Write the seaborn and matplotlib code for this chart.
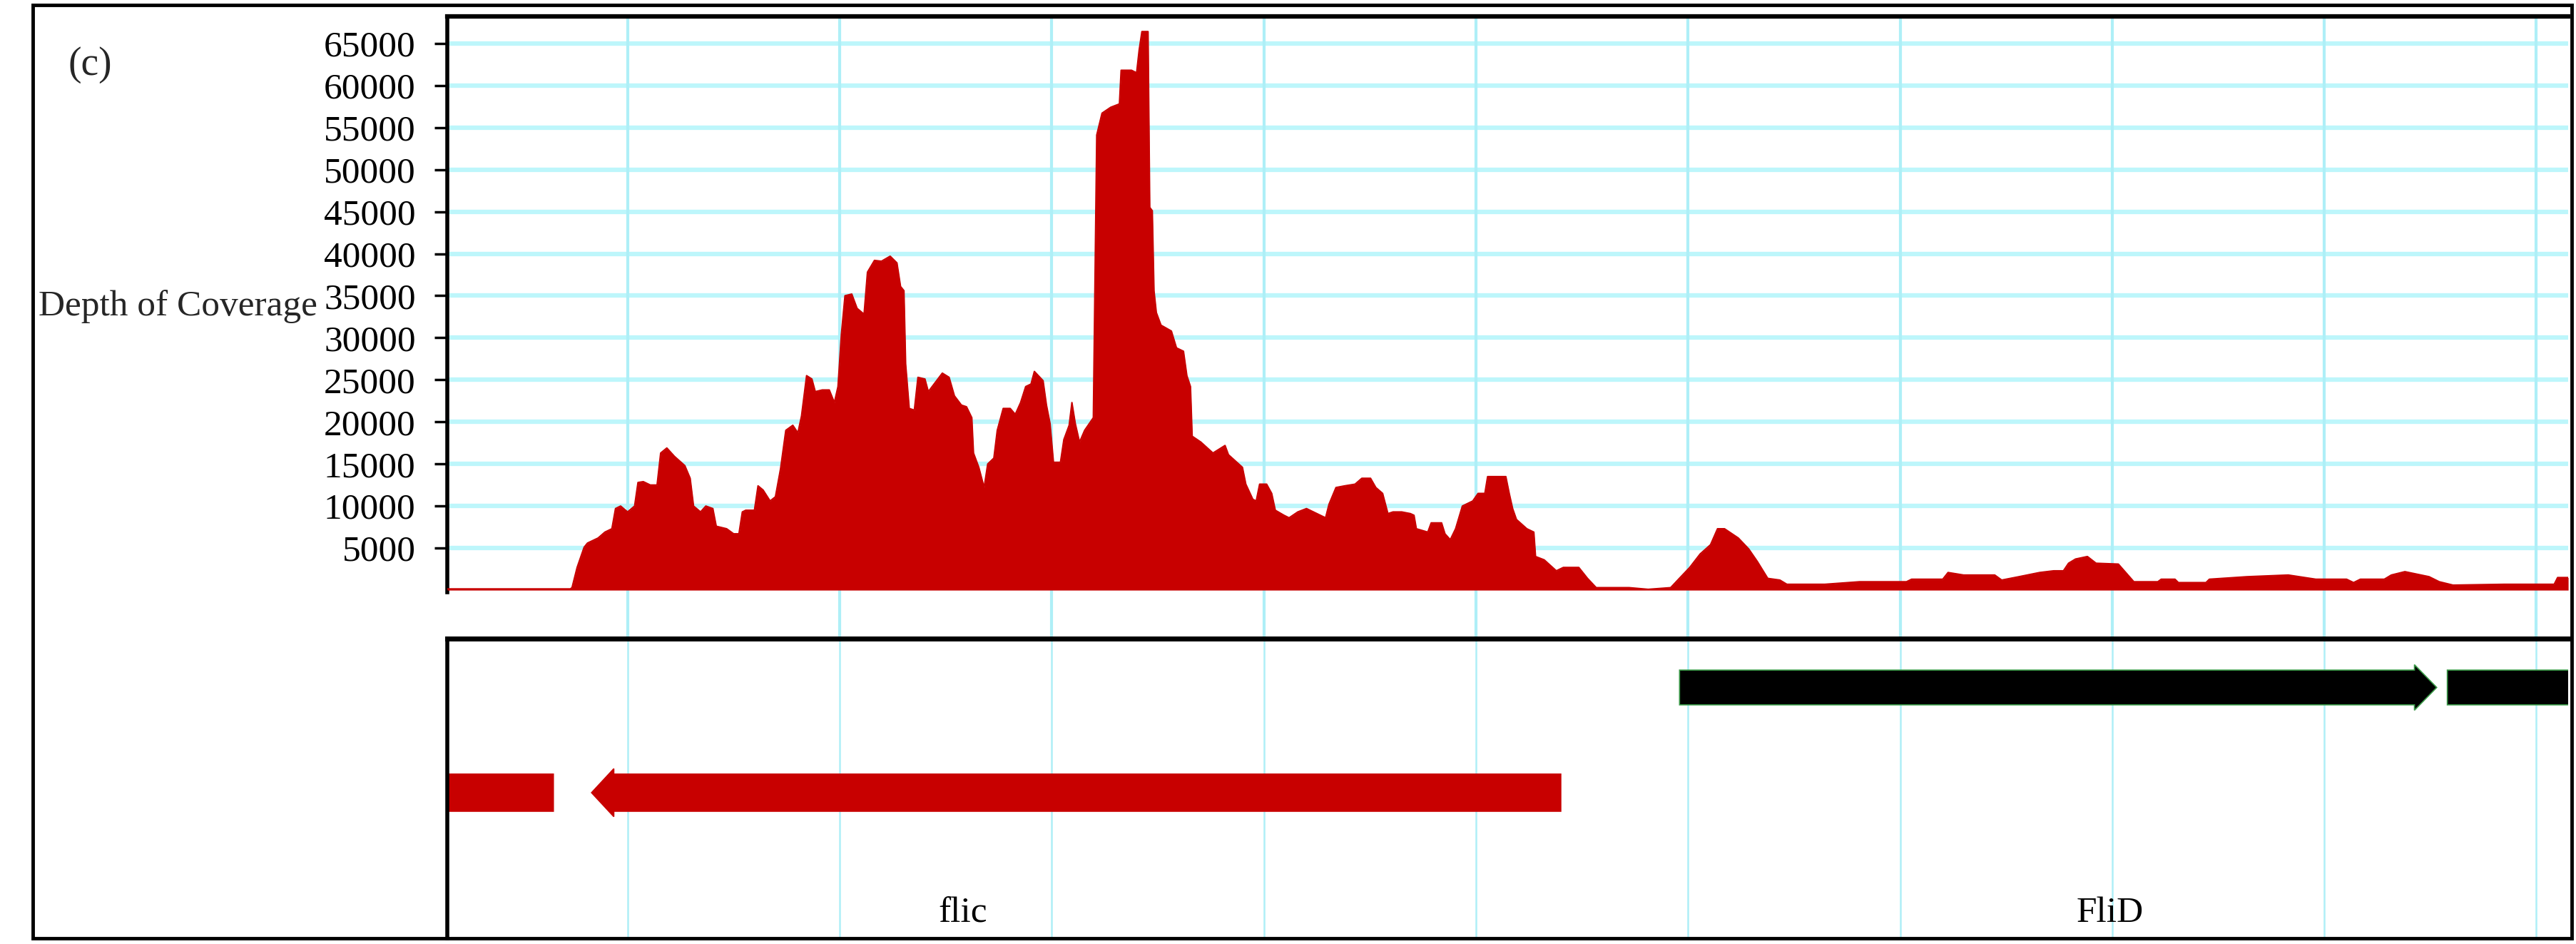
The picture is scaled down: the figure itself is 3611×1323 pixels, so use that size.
import pandas as pd
import seaborn as sns
import matplotlib.pyplot as plt
from matplotlib.patches import Polygon, Rectangle

# coverage profile (position in arbitrary bp units, 100 per grid column)
position = [0, 58, 58.8, 61.2, 64.5, 66.1, 71.1, 74.3, 77.6, 79.3, 81.7, 85.0, 88.3, 89.9, 92.4,
            95.7, 98.9, 100.6, 103.5, 107.1, 112.0, 114.5, 116.1, 119.4, 121.9, 125.2, 126.8,
            131.7, 135.0, 137.5, 139.1, 140.7, 144.8, 146.5, 148.9, 152.2, 154.7, 157.1, 159.6,
            162.9, 165.3, 167.0, 169.4, 171.9, 173.5, 176.8, 180.1, 182.5, 184.2, 185.8, 187.5,
            190.7, 193.2, 196.5, 198.1, 201.4, 204.7, 208.8, 212.0, 213.7, 215.3, 216.1, 217.8,
            220.2, 221.9, 225.2, 226.8, 230.1, 233.4, 236.6, 239.1, 242.4, 244.8, 247.3, 248.1,
            250.6, 253.1, 254.8, 257.7, 259.3, 262.1, 265.4, 267.8, 270.3, 272.7, 275.2, 276.8,
            280.9, 282.5, 284.2, 285.8, 289.1, 290.7, 293.2, 294.5, 296.1, 298.1, 300.5, 304.6,
            306.2, 308.7, 312.8, 316.9, 317.7, 322.6, 325.0, 326.2, 327.5, 330.4, 331.2, 332.4,
            333.2, 334.3, 336.5, 341.4, 343.8, 347.1, 348.7, 350.4, 351.2, 355.3, 361.0, 366.7,
            368.3, 374.9, 376.5, 379.8, 381.4, 383.0, 386.3, 388.7, 390.4, 394.5, 396.9, 401.0,
            405.1, 410.0, 414.1, 415.7, 419.0, 423.1, 428.0, 431.2, 435.3, 437.8, 441.0, 443.5,
            445.9, 450.0, 454.1, 455.8, 456.9, 462.3, 463.9, 468.8, 470.4, 472.9, 475.4, 478.6,
            483.5, 486.0, 489.2, 490.5, 499.1, 500.7, 502.3, 504.1, 509.0, 512.3, 513.1, 517.2,
            522.9, 526.2, 533.5, 537.6, 541.7, 557.2, 566.2, 576.8, 580.9, 585.8, 590.7, 595.6,
            598.9, 602.2, 608.7, 613.6, 617.7, 622.6, 628.3, 631.6, 649.5, 665.9, 688.0, 690.4,
            705.1, 707.6, 714.9, 729.6, 732.9, 741.0, 750.8, 757.4, 762.0, 764.4, 767.7, 773.3,
            777.4, 787.9, 795.2, 806.5, 808.1, 814.6, 816.2, 829.2, 830.8, 848.6, 868.0, 881.0,
            895.5, 898.8, 902.0, 913.3, 916.6, 923.0, 934.4, 939.2, 945.7, 969.9, 993.4, 995.0,
            1000]
depth = [150, 150, 300, 2700, 5100, 5600, 6200, 6900, 7300, 9700, 10000, 9300, 10000, 12800, 12900,
         12500, 12500, 16300, 16900, 15900, 14800, 13300, 10000, 9300, 10000, 9700, 7600,
         7300, 6700, 6700, 9300, 9500, 9500, 12400, 11900, 10600, 11100, 14400, 19000,
         19600, 18700, 20700, 25500, 25100, 23600, 23800, 23800, 22300, 24200, 30400, 35000,
         35200, 33500, 32800, 37800, 39200, 39100, 39700, 38900, 36100, 35600, 26900, 21600,
         21400, 25300, 25100, 23600, 24700, 25800, 25300, 23100, 22000, 21800, 20500, 16300,
         14600, 12200, 15000, 15700, 19000, 21600, 21600, 20900, 22300, 24200, 24500, 26000,
         24900, 22000, 19800, 15200, 15200, 17900, 19600, 22300, 19800, 17600, 19000, 20500,
         54100, 56700, 57400, 57800, 61800, 61800, 61500, 64200, 66400, 66400, 45500, 45100,
         35600, 33000, 31500, 30800, 28800, 28400, 25500, 24200, 18300, 17600, 16300, 17200,
         16100, 14600, 12600, 10800, 10600, 12600, 12600, 11500, 9500, 8900, 8600, 9300,
         9700, 9100, 8600, 10200, 12200, 12400, 12600, 13300, 13300, 12200, 11500, 9100,
         9300, 9300, 9100, 8900, 7300, 6900, 8000, 8000, 6700, 6000, 7300, 10000,
         10600, 11500, 11500, 13500, 13500, 11500, 9700, 8400, 7300, 6900, 4000, 3600,
         2300, 2700, 2700, 1400, 300, 300, 100, 300, 1400, 2700, 4300, 5400,
         7300, 7300, 6200, 4900, 3400, 1400, 1200, 700, 700, 1000, 1000, 1300,
         1300, 2100, 1800, 1800, 1200, 1600, 2100, 2300, 2300, 3200, 3700, 4000,
         3200, 3100, 1000, 1000, 1300, 1300, 900, 900, 1300, 1600, 1800, 1300,
         1300, 900, 1300, 1300, 1800, 2200, 1600, 1000, 600, 700, 700, 1500,
         1500]

y_ticks = list(range(5000, 65001, 5000))
grid_x = list(range(85, 1000, 100))

# gene track
gene_start = [-40, 68, 581, 943]
gene_end = [50, 525, 938, 1050]
gene_strand = [-1, -1, 1, 1]
gene_color = ["#c80000", "#c80000", "black", "black"]
gene_names = ["flic", "FliD"]
gene_label_x = [243, 784]

RED = "#c80000"
CYAN_H = "#bdf6fb"
CYAN_V = "#aeeff7"

sns.set_theme(style="white")
plt.rcParams["font.family"] = ["Liberation Serif", "DejaVu Serif"]

df = pd.DataFrame({"position": position, "depth": depth})

fig = plt.figure(figsize=(36.12, 13.23), dpi=100)
ax = fig.add_axes([0.1736, 0.3726, 0.8231, 0.61])
ax2 = fig.add_axes([0.1736, 0.006, 0.8231, 0.3175])

# coverage panel
ax.fill_between(df["position"], df["depth"], color=RED, lw=0, zorder=3)
sns.lineplot(data=df, x="position", y="depth", ax=ax, color=RED, lw=1.5, zorder=4)
ax.set_xlim(0, 1000)
ax.set_ylim(-250, 68200)
ax.set_yticks(y_ticks)
ax.set_yticklabels([str(v) for v in y_ticks])
ax.set_xticks([])
ax.set_xlabel("")
ax.set_ylabel("")
ax.yaxis.grid(True, color=CYAN_H, lw=4.5, zorder=0)
ax.set_axisbelow(True)
for gx in grid_x:
    ax.axvline(gx, ymin=-0.081, ymax=1, color=CYAN_V, lw=3, clip_on=False, zorder=1)
ax.tick_params(axis="y", direction="out", length=13, width=2.5, pad=19,
               labelsize=37, colors="black", left=True)
ax.spines["top"].set_linewidth(4.5)
ax.spines["left"].set_linewidth(4)
ax.spines["right"].set_visible(False)
ax.spines["bottom"].set_visible(False)
for s in ["top", "left"]:
    ax.spines[s].set_color("black")

# gene panel
ax2.set_xlim(0, 1000)
ax2.set_ylim(0, 1)
ax2.set_xticks([])
ax2.set_yticks([])
for gx in grid_x:
    ax2.axvline(gx, color=CYAN_V, lw=1.8, zorder=0)

head_len = 10.5
pad = 0.018
for start, end, strand, col in zip(gene_start, gene_end, gene_strand, gene_color):
    if strand > 0:
        lo, hi = 0.779, 0.895
        mid = (lo + hi) / 2
        base = end - head_len
        pts = [(start, lo), (base, lo), (base, lo - pad), (end, mid),
               (base, hi + pad), (base, hi), (start, hi)]
        ec = "#3a9a48"
    else:
        lo, hi = 0.424, 0.548
        mid = (lo + hi) / 2
        base = start + head_len
        pts = [(end, lo), (base, lo), (base, lo - pad), (start, mid),
               (base, hi + pad), (base, hi), (end, hi)]
        ec = col
    ax2.add_patch(Polygon(pts, closed=True, facecolor=col, edgecolor=ec, lw=1.2, zorder=2))

for name, lx in zip(gene_names, gene_label_x):
    ax2.text(lx, 0.083, name, fontsize=37, ha="center", va="center", color="black")

ax2.spines["top"].set_linewidth(5)
ax2.spines["left"].set_linewidth(4)
ax2.spines["right"].set_visible(False)
ax2.spines["bottom"].set_visible(False)
for s in ["top", "left"]:
    ax2.spines[s].set_color("black")

# outer frame and labels
fig.add_artist(Rectangle((0.0127, 0.006), 0.9853, 0.9887, transform=fig.transFigure,
                         fill=False, lw=3.5, ec="black"))
fig.text(0.0349, 0.931, "(c)", fontsize=40, ha="center", va="center")
fig.text(0.015, 0.666, "Depth of Coverage", fontsize=37, ha="left", va="baseline")

fig.savefig("out.png", dpi=100)
